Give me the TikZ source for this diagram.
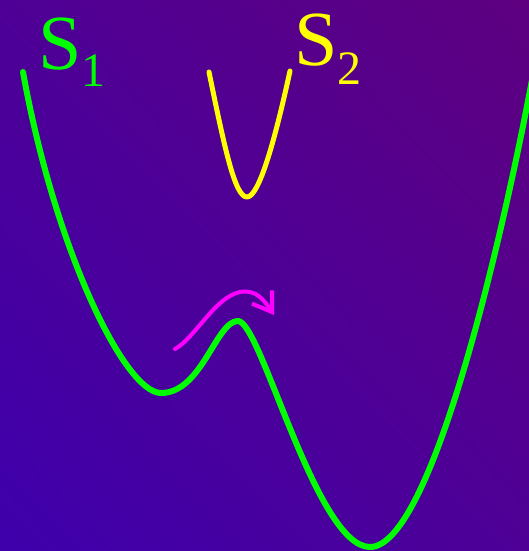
\documentclass[tikz,border=0pt]{standalone}
\usepackage{fontspec}
\setmainfont{Liberation Serif}
\usetikzlibrary{arrows.meta,shadings}
\definecolor{bgLL}{RGB}{62,0,172}
\definecolor{bgUR}{RGB}{94,0,128}
\definecolor{bgMid}{RGB}{78,0,150}
\definecolor{sgreen}{RGB}{0,255,0}
\definecolor{syellow}{RGB}{255,255,0}
\definecolor{smag}{RGB}{255,0,255}
\newfontfamily\lblfont{Liberation Serif}
\tikzset{
  curveS1/.style={draw=sgreen, line width=6pt, line cap=round, line join=round},
  curveS2/.style={draw=syellow, line width=5pt, line cap=round, line join=round},
  hop/.style={draw=smag, line width=4pt, line cap=round, line join=round,
    -{Straight Barb[length=18pt, width=24pt, line width=4pt]}},
  lbl/.style={anchor=base west, inner sep=0pt, outer sep=0pt, font=\lblfont}
}
\begin{document}
\begin{tikzpicture}[x=1pt, y=-1pt]
\shade[lower left=bgLL, upper right=bgUR, upper left=bgMid, lower right=bgMid]
  (0,551) rectangle (529,0);
\useasboundingbox (0,0) rectangle (529,551);
% named points of the surfaces
\coordinate (g0) at (23,72);
\coordinate (gmin1) at (161,393);
\coordinate (gpeak) at (238,321);
\coordinate (gmin2) at (370,547);
\coordinate (gend) at (532,80);
\coordinate (y0) at (209,72);
\coordinate (ymin) at (247,197);
\coordinate (y1) at (290,71);
\coordinate (m0) at (175,349);
\coordinate (mtop) at (240,292);
\coordinate (mtip) at (274,315);
% S1 surface
\draw[curveS1] (g0) .. controls (55,250) and (125,393) .. (gmin1)
  .. controls (202,393) and (216,321) .. (gpeak)
  .. controls (261,321) and (316,547) .. (gmin2)
  .. controls (430,547) and (500,250) .. (gend);
% S2 surface
\draw[curveS2] (y0) .. controls (225,150) and (235,197) .. (ymin)
  .. controls (259,197) and (275,140) .. (y1);
% hop arrow
\draw[hop] (m0) .. controls (195,338) and (215,297) .. (mtop)
  .. controls (256,289) and (264,300) .. (mtip);
% labels
\node[lbl, text=sgreen] (s1) at (38,70) {\fontsize{78}{78}\selectfont S\raisebox{-17pt}{\fontsize{48}{48}\selectfont 1}};
\node[lbl, text=syellow] (s2) at (294,65) {\fontsize{78}{78}\selectfont S\raisebox{-19pt}{\fontsize{48}{48}\selectfont 2}};
\end{tikzpicture}
\end{document}
